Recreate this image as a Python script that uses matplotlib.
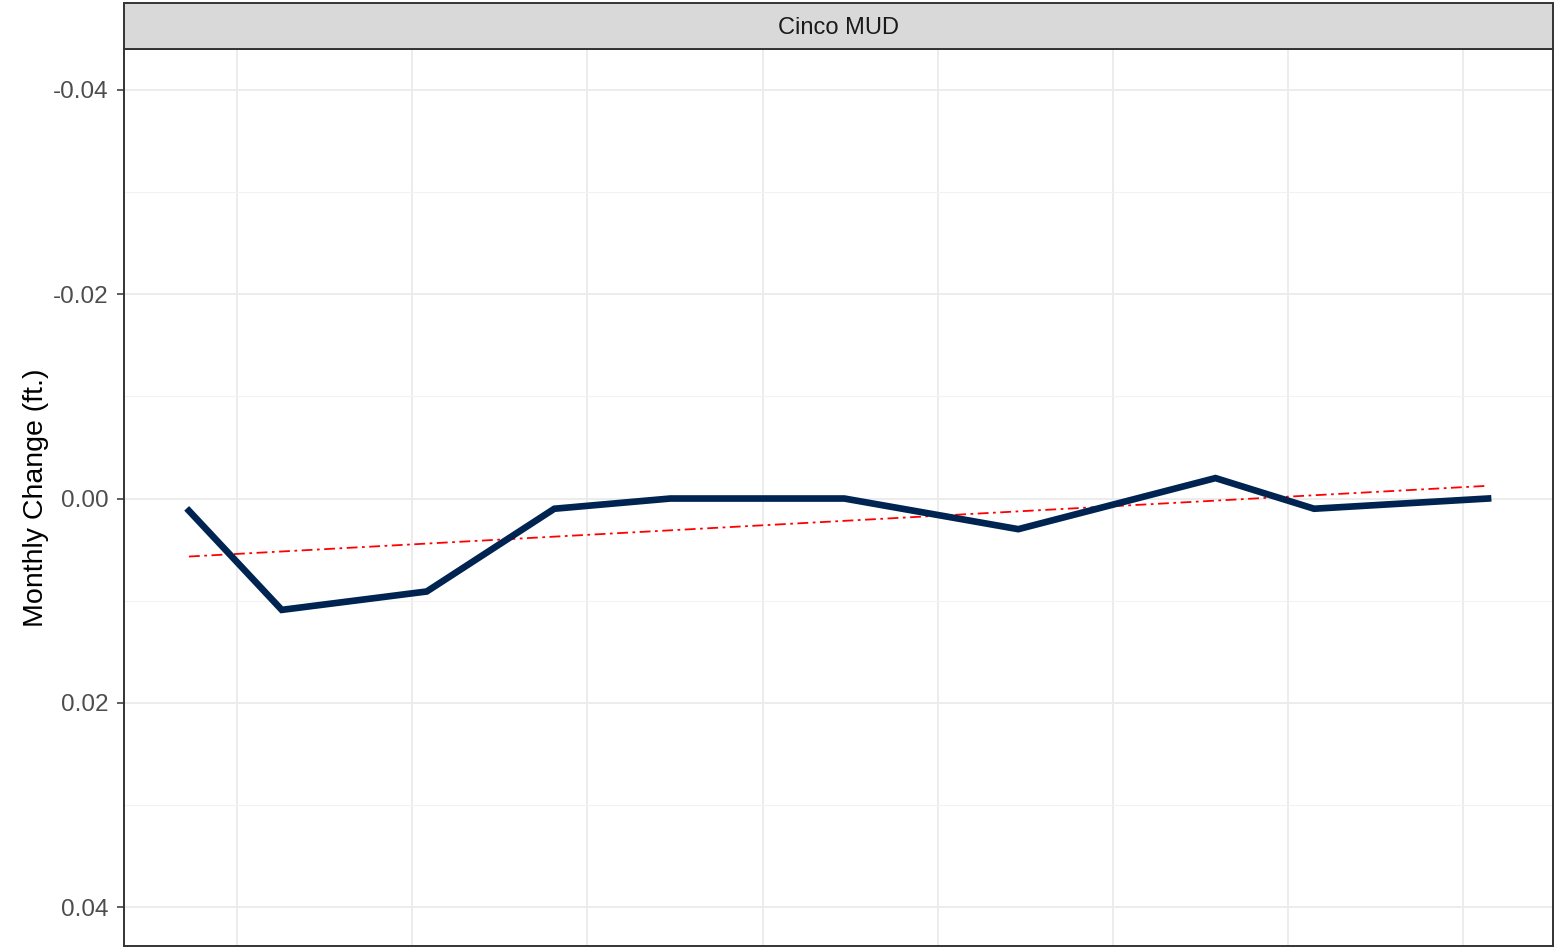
import numpy as np
import matplotlib.pyplot as plt
from matplotlib.patches import Rectangle

# days since first reading, monthly change (ft.)
days = [0, 16, 41, 63, 83, 113, 143, 177, 194, 224]
change = [0.0012, 0.0109, 0.0091, 0.001, 0.0, 0.0, 0.003, -0.002, 0.001, 0.0]
y_ticks = [-0.04, -0.02, 0.00, 0.02, 0.04]
y_labels = ['-0.04', '-0.02', '0.00', '0.02', '0.04']
site = 'Cinco MUD'

plt.rcParams['font.family'] = ['Liberation Sans', 'DejaVu Sans']

W, H = 1563, 951
fig = plt.figure(figsize=(W / 100, H / 100), dpi=100)
ax = fig.add_axes([124 / W, 1 - 946 / H, (1553 - 124) / W, (946 - 49) / H])

# linear trend
coef = np.polyfit(days, change, 1)
xs = np.array([days[0], days[-1]])
ax.plot(xs, np.polyval(coef, xs), color='red', lw=1.3, ls=(0, (6, 2.5, 1.5, 2.5)), zorder=3)
ax.plot(days, change, color='#002452', lw=4.8, solid_joinstyle='miter', zorder=4)

span = days[-1] - days[0]
ax.set_xlim(days[0] - 0.05 * span, days[-1] + 0.05 * span)
ax.set_ylim(0.0438, -0.044)

ax.set_yticks(y_ticks)
ax.set_yticklabels(y_labels)
ax.set_yticks([-0.03, -0.01, 0.01, 0.03], minor=True)
ax.set_xticks(np.arange(8.3, 230, 30.2))
ax.set_xticklabels([])
ax.tick_params(axis='x', length=0)
ax.tick_params(axis='y', which='major', length=5, width=1.1, color='#333333',
               labelsize=17.5, labelcolor='#4d4d4d', pad=6)
ax.tick_params(axis='y', which='minor', length=0)
ax.grid(True, which='major', color='#ebebeb', lw=1.3)
ax.grid(True, which='minor', axis='y', color='#f2f2f2', lw=0.8)
ax.set_axisbelow(True)
for s in ax.spines.values():
    s.set_color('#333333')
    s.set_linewidth(1.4)

ax.set_ylabel('Monthly Change (ft.)', fontsize=20.5, labelpad=3)

# facet strip
strip = Rectangle((124 / W, 1 - 49 / H), (1553 - 124) / W, 46 / H, transform=fig.transFigure,
                  facecolor='#d9d9d9', edgecolor='#333333', lw=1.4)
fig.patches.append(strip)
fig.text((124 + 1553) / 2 / W, 1 - 28 / H, site, ha='center', va='center',
         fontsize=17, color='#1a1a1a')

fig.savefig('out.png', dpi=100)
